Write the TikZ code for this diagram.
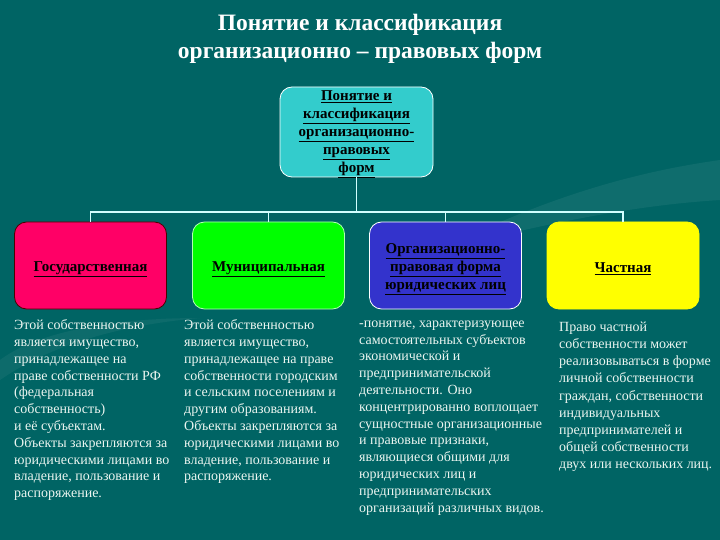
\documentclass[tikz,border=0pt]{standalone}
\usepackage{fontspec}
\setmainfont{Liberation Serif}
\definecolor{bg}{RGB}{0,100,100}
\definecolor{topc}{RGB}{51,204,204}
\definecolor{redc}{RGB}{255,0,102}
\definecolor{grnc}{RGB}{0,255,0}
\definecolor{bluc}{RGB}{51,51,204}
\definecolor{yelc}{RGB}{255,255,0}
\definecolor{linec}{RGB}{210,255,255}
\definecolor{txtc}{RGB}{235,245,240}
\newcommand{\ulx}[1]{\underline{#1}}
\tikzset{
  box/.style={rounded corners=12pt, minimum width=152pt, minimum height=87pt, inner sep=0pt, line width=0.8pt},
  boxtxt/.style={inner sep=0pt, align=center, font=\fontsize{15}{18}\selectfont\bfseries, text=black},
  note/.style={anchor=north west, inner sep=0pt, align=left, text=txtc,
    font=\fontsize{14}{16.8}\selectfont},
  conn/.style={draw=linec, line width=1.6pt}
}
\begin{document}
\begin{tikzpicture}[x=1pt,y=-1pt]
\fill[bg] (0,0) rectangle (720,540);
\useasboundingbox (0,0) rectangle (720,540);
% faint swooshes
\fill[white, opacity=0.06] (440,250) .. controls (560,190) and (650,170) .. (720,160) -- (720,200) .. controls (640,205) and (560,220) .. (440,250) -- cycle;
\fill[white, opacity=0.05] (0,360) .. controls (40,330) and (120,318) .. (200,318) .. controls (120,325) and (50,345) .. (0,380) -- cycle;
% title
\node[align=center, text=white, font=\fontsize{23.5}{27.5}\selectfont\bfseries] (title) at (360,39)
  {Понятие и классификация\\организационно – правовых форм};
% boxes
\node[box, fill=topc, draw=white, minimum width=153pt, minimum height=90pt] (top) at (356.5,132) {};
\node[boxtxt] (topt) at ([yshift=-2.5pt]top.center)
  {\ulx{Понятие и}\\\ulx{классификация}\\\ulx{организационно-}\\\ulx{правовых}\\\ulx{форм}};
\node[box, fill=redc, draw=black!70!red] (red) at (90.5,265.5) {};
\node[boxtxt] (redt) at ([yshift=-3.5pt]red.center) {\ulx{Государственная}};
\node[box, fill=grnc, draw=white!70!green] (grn) at (268.5,265.5) {};
\node[boxtxt] (grnt) at ([yshift=-3.5pt]grn.center) {\ulx{Муниципальная}};
\node[box, fill=bluc, draw=white] (blu) at (445.5,265.5) {};
\node[boxtxt] (blut) at ([yshift=-4pt]blu.center)
  {\ulx{Организационно-}\\\ulx{правовая форма}\\\ulx{юридических лиц}};
\node[box, fill=yelc, draw=yelc] (yel) at (623,265.5) {};
\node[boxtxt] (yelt) at ([yshift=-3.5pt]yel.center) {\ulx{Частная}};
% connectors
\coordinate (bus) at (357,212);
\draw[conn] (top.south) -- (top.south |- bus);
\draw[conn] (red.north) -- (red.north |- bus) -- (yel.north |- bus) -- (yel.north);
\draw[conn] (grn.north) -- (grn.north |- bus);
\draw[conn] (blu.north) -- (blu.north |- bus);
% notes
\node[note] (n1) at (14,319.5) {Этой собственностью\\является имущество,\\принадлежащее на\\праве собственности РФ\\(федеральная\\собственность)\\и её субъектам.\\Объекты закрепляются за\\юридическими лицами во\\владение, пользование и\\распоряжение.};
\node[note] (n2) at (184,319.5) {Этой собственностью\\является имущество,\\принадлежащее на праве\\собственности городским\\и сельским поселениям и\\другим образованиям.\\Объекты закрепляются за\\юридическими лицами во\\владение, пользование и\\распоряжение.};
\node[note] (n3) at (359,320.5) {-понятие, характеризующее\\самостоятельных субъектов\\экономической и\\предпринимательской\\деятельности. Оно\\концентрированно воплощает\\сущностные организационные\\и правовые признаки,\\являющиеся общими для\\юридических лиц и\\предпринимательских\\организаций различных видов.};
\node[note, font=\fontsize{14}{17.2}\selectfont] (n4) at (559,321.5) {Право частной\\собственности может\\реализовываться в форме\\личной собственности\\граждан, собственности\\индивидуальных\\предпринимателей и\\общей собственности\\двух или нескольких лиц.};
\end{tikzpicture}
\end{document}
